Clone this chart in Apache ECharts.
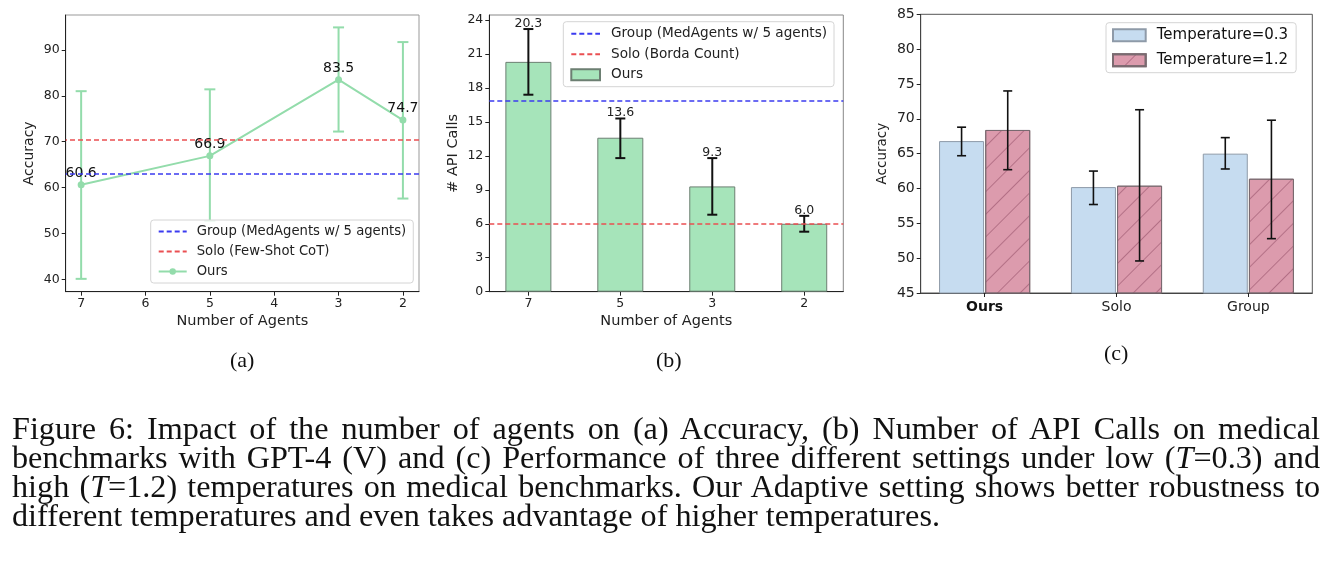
<!DOCTYPE html>
<html>
<head>
<meta charset="utf-8">
<script src="https://cdn.jsdelivr.net/npm/echarts@6/dist/echarts.min.js"></script>
<style>
  html, body { margin: 0; padding: 0; background: #fff; }
  #wrap { position: relative; width: 1340px; height: 568px; overflow: hidden; }
  #main { position: absolute; left: 0; top: 0; width: 1340px; height: 568px; }
  #caption { position: absolute; left: 12px; top: 414px; width: 1308px;
    font-family: 'Liberation Serif', 'Times New Roman', serif; font-size: 32.2px; line-height: 29px; color: #111; }
  #caption div { white-space: nowrap; text-align: justify; text-align-last: justify; }
  #caption div.last { text-align-last: left; }
</style>
</head>
<body>
<div id="wrap">
  <div id="main"></div>
  <div id="caption">
    <div>Figure 6: Impact of the number of agents on (a) Accuracy, (b) Number of API Calls on medical</div>
    <div>benchmarks with GPT-4 (V) and (c) Performance of three different settings under low (<i>T</i>=0.3) and</div>
    <div>high (<i>T</i>=1.2) temperatures on medical benchmarks. Our Adaptive setting shows better robustness to</div>
    <div class="last">different temperatures and even takes advantage of higher temperatures.</div>
  </div>
</div>
<script>
// (a) accuracy vs number of agents
const agentsA = [7, 5, 3, 2];
const accA = [60.6, 66.9, 83.5, 74.7];
const accALow = [40.1, 52.7, 72.2, 57.6];
const accAHigh = [81.0, 81.4, 94.9, 91.7];
const groupA = 63.1;
const soloA = 70.4;
const xTicksA = [2, 3, 4, 5, 6, 7];
const yTicksA = [40, 50, 60, 70, 80, 90];

// (b) api calls
const agentsB = ['7', '5', '3', '2'];
const callsB = [20.3, 13.6, 9.3, 6.0];
const callsBLow = [17.4, 11.8, 6.8, 5.3];
const callsBHigh = [23.2, 15.3, 11.8, 6.7];
const groupB = 16.9;
const soloB = 6.0;
const yTicksB = [0, 3, 6, 9, 12, 15, 18, 21, 24];

// (c) temperature robustness
const settingsC = ['Ours', 'Solo', 'Group'];
const accT03 = [66.8, 60.2, 65.0];
const accT03Low = [64.7, 57.7, 62.8];
const accT03High = [68.8, 62.5, 67.3];
const accT12 = [68.4, 60.4, 61.4];
const accT12Low = [62.7, 49.6, 52.8];
const accT12High = [74.0, 71.3, 69.8];

const FONT = 'DejaVu Sans';
const GREEN = '#93dcab';
const BLUE_DASH = '#3b3bf0';
const RED_DASH = '#ea4f52';

const chart = echarts.init(document.getElementById('main'), null, { renderer: 'canvas' });

function errRender(color, cap, lw, labels) {
  return function (params, api) {
    const x = api.value(0);
    const top = api.coord([x, api.value(2)]);
    const bot = api.coord([x, api.value(1)]);
    const st = { stroke: color, lineWidth: lw };
    const kids = [
      { type: 'line', shape: { x1: top[0], y1: top[1], x2: bot[0], y2: bot[1] }, style: st },
      { type: 'line', shape: { x1: top[0] - cap, y1: top[1], x2: top[0] + cap, y2: top[1] }, style: st },
      { type: 'line', shape: { x1: bot[0] - cap, y1: bot[1], x2: bot[0] + cap, y2: bot[1] }, style: st }
    ];
    if (labels) {
      kids.push({ type: 'text', style: { text: labels[params.dataIndex].toFixed(1), x: top[0], y: top[1] + 1,
        textAlign: 'center', textVerticalAlign: 'bottom', fontSize: 12.5, fontFamily: FONT, fill: '#222' } });
    }
    return { type: 'group', children: kids };
  };
}

function refLine(name, value, color, xi) {
  return {
    name: name, type: 'line', xAxisIndex: xi, yAxisIndex: xi, data: [], symbol: 'none',
    lineStyle: { color: color, type: [5, 3], width: 1.5 }, itemStyle: { color: color },
    markLine: { silent: true, symbol: ['none', 'none'], label: { show: false },
      lineStyle: { color: color, type: [5, 3], width: 1.5 }, data: [{ yAxis: value }] }
  };
}

// legend entry for a dashed reference line: keep the line, hide the marker
const dashEntry = (name) => ({ name: name, itemStyle: { opacity: 0 } });

const legendBase = {
  orient: 'vertical', selectedMode: false, backgroundColor: 'rgba(255,255,255,0.85)',
  borderColor: '#d4d4d4', borderWidth: 1, borderRadius: 3
};

const tickLabel = (size) => ({ fontFamily: FONT, fontSize: size, color: '#222' });
const axisLineDark = { show: true, onZero: false, lineStyle: { color: '#222', width: 1 } };
const axisLineGray = { show: true, onZero: false, lineStyle: { color: '#444', width: 1 } };
const tickDark = { show: true, length: 4, lineStyle: { color: '#222' } };

const option = {
  animation: false,
  textStyle: { fontFamily: FONT },
  grid: [
    { left: 65.7, top: 15, width: 353.3, height: 276.7, show: true, borderColor: '#999', borderWidth: 1 },
    { left: 489.3, top: 15, width: 354, height: 276.7, show: true, borderColor: '#888', borderWidth: 1 },
    { left: 920.7, top: 14.3, width: 391.6, height: 278.7, show: true, borderColor: '#555', borderWidth: 1 }
  ],
  xAxis: [
    { gridIndex: 0, type: 'value', inverse: true, min: 1.75, max: 7.24,
      axisLine: axisLineDark, axisTick: Object.assign({ customValues: xTicksA }, tickDark),
      axisLabel: Object.assign({ customValues: xTicksA, margin: 6 }, tickLabel(12.5)),
      splitLine: { show: false },
      name: 'Number of Agents', nameLocation: 'middle', nameGap: 22,
      nameTextStyle: { fontFamily: FONT, fontSize: 14.5, color: '#222' } },
    { gridIndex: 1, type: 'value', min: -0.425, max: 3.425,
      axisLine: axisLineDark, axisTick: Object.assign({ customValues: [0, 1, 2, 3] }, tickDark),
      axisLabel: Object.assign({ customValues: [0, 1, 2, 3], margin: 6, formatter: v => agentsB[v] }, tickLabel(12.5)),
      splitLine: { show: false },
      name: 'Number of Agents', nameLocation: 'middle', nameGap: 22,
      nameTextStyle: { fontFamily: FONT, fontSize: 14.5, color: '#222' } },
    { gridIndex: 2, type: 'value', min: -0.485, max: 2.485,
      axisLine: axisLineGray,
      axisTick: Object.assign({ customValues: [0, 1, 2] }, tickDark),
      axisLabel: Object.assign({ customValues: [0, 1, 2], margin: 7,
        formatter: v => v === 0 ? '{b|' + settingsC[v] + '}' : settingsC[v],
        rich: { b: { fontWeight: 'bold', fontFamily: FONT, fontSize: 14, color: '#111' } } }, tickLabel(14)),
      splitLine: { show: false } }
  ],
  yAxis: [
    { gridIndex: 0, type: 'value', min: 37.3, max: 97.6,
      axisLine: axisLineDark, axisTick: Object.assign({ customValues: yTicksA }, tickDark),
      axisLabel: Object.assign({ customValues: yTicksA, margin: 6 }, tickLabel(12.5)),
      splitLine: { show: false },
      name: 'Accuracy', nameLocation: 'middle', nameGap: 29,
      nameTextStyle: { fontFamily: FONT, fontSize: 14, color: '#222' } },
    { gridIndex: 1, type: 'value', min: 0, max: 24.44,
      axisLine: axisLineDark, axisTick: Object.assign({ customValues: yTicksB }, tickDark),
      axisLabel: Object.assign({ customValues: yTicksB, margin: 6 }, tickLabel(12.5)),
      splitLine: { show: false },
      name: '# API Calls', nameLocation: 'middle', nameGap: 29,
      nameTextStyle: { fontFamily: FONT, fontSize: 14.5, color: '#222' } },
    { gridIndex: 2, type: 'value', min: 45, max: 85, interval: 5,
      axisLine: axisLineGray, axisTick: tickDark,
      axisLabel: Object.assign({ margin: 6 }, tickLabel(14)),
      splitLine: { show: false },
      name: 'Accuracy', nameLocation: 'middle', nameGap: 31,
      nameTextStyle: { fontFamily: FONT, fontSize: 13.5, color: '#222' } }
  ],
  legend: [
    Object.assign({}, legendBase, {
      left: 150.7, top: 220, padding: [5, 7, 5, 7], itemWidth: 28, itemHeight: 8, itemGap: 7,
      textStyle: { fontFamily: FONT, fontSize: 13.2, color: '#222', padding: [0, 0, 0, 5] },
      data: [dashEntry('Group (MedAgents w/ 5 agents)'), dashEntry('Solo (Few-Shot CoT)'), 'Ours']
    }),
    Object.assign({}, legendBase, {
      left: 563.3, top: 21.7, padding: [5, 7, 5, 7], itemWidth: 28.7, itemHeight: 11, itemGap: 6.5,
      textStyle: { fontFamily: FONT, fontSize: 13.6, color: '#222', padding: [0, 0, 0, 6] },
      formatter: n => n.replace(/^b:/, ''),
      data: [dashEntry('b:Group (MedAgents w/ 5 agents)'), dashEntry('b:Solo (Borda Count)'),
        { name: 'b:Ours', icon: 'rect' }]
    }),
    Object.assign({}, legendBase, {
      left: 1106, top: 22.7, padding: [5, 8, 5, 6], itemWidth: 32.7, itemHeight: 12, itemGap: 10,
      textStyle: { fontFamily: FONT, fontSize: 15, color: '#111', padding: [0, 0, 0, 6] },
      data: [{ name: 'Temperature=0.3', icon: 'rect' }, { name: 'Temperature=1.2', icon: 'rect' }]
    })
  ],
  graphic: [
    { type: 'text', left: 230, top: 350, style: { text: '(a)', fontFamily: 'Liberation Serif', fontSize: 22, fill: '#111' } },
    { type: 'text', left: 656, top: 350, style: { text: '(b)', fontFamily: 'Liberation Serif', fontSize: 22, fill: '#111' } },
    { type: 'text', left: 1104, top: 343, style: { text: '(c)', fontFamily: 'Liberation Serif', fontSize: 22, fill: '#111' } }
  ],
  series: [
    // (a)
    refLine('Group (MedAgents w/ 5 agents)', groupA, BLUE_DASH, 0),
    refLine('Solo (Few-Shot CoT)', soloA, RED_DASH, 0),
    { name: 'Ours', type: 'line', xAxisIndex: 0, yAxisIndex: 0,
      data: agentsA.map((a, i) => [a, accA[i]]),
      symbol: 'circle', symbolSize: 7, lineStyle: { color: GREEN, width: 2 }, itemStyle: { color: GREEN },
      label: { show: true, position: 'top', distance: 1, fontFamily: FONT, fontSize: 14, color: '#111',
        formatter: p => p.value[1].toFixed(1) }, z: 3 },
    { type: 'custom', xAxisIndex: 0, yAxisIndex: 0, renderItem: errRender(GREEN, 5.5, 2),
      data: agentsA.map((a, i) => [a, accALow[i], accAHigh[i]]), z: 2 },
    // (b)
    refLine('b:Group (MedAgents w/ 5 agents)', groupB, BLUE_DASH, 1),
    refLine('b:Solo (Borda Count)', soloB, RED_DASH, 1),
    { name: 'b:Ours', type: 'bar', xAxisIndex: 1, yAxisIndex: 1, barWidth: 46,
      data: agentsB.map((a, i) => [i, callsB[i]]),
      itemStyle: { color: '#a6e4ba', borderColor: '#6c7f72', borderWidth: 1 }, z: 1 },
    { type: 'custom', xAxisIndex: 1, yAxisIndex: 1, renderItem: errRender('#111', 5, 2, callsB),
      data: agentsB.map((a, i) => [i, callsBLow[i], callsBHigh[i]]), z: 4 },
    // (c)
    { name: 'Temperature=0.3', type: 'bar', xAxisIndex: 2, yAxisIndex: 2, barWidth: 45, barGap: '-100%',
      data: settingsC.map((s, i) => [i - 0.175, accT03[i]]),
      itemStyle: { color: '#c6dcf0', borderColor: '#8e9aa8', borderWidth: 1 } },
    { name: 'Temperature=1.2', type: 'bar', xAxisIndex: 2, yAxisIndex: 2, barWidth: 45, barGap: '-100%',
      data: settingsC.map((s, i) => [i + 0.175, accT12[i]]),
      itemStyle: { color: '#dc9bad', borderColor: '#7a6a70', borderWidth: 1,
        decal: { symbol: 'rect', symbolSize: 1, dashArrayX: [1, 0], dashArrayY: [1, 15],
          rotation: -Math.PI / 4, color: 'rgba(140,70,95,0.5)' } } },
    { type: 'custom', xAxisIndex: 2, yAxisIndex: 2, renderItem: errRender('#111', 4.5, 1.6),
      data: settingsC.map((s, i) => [i - 0.175, accT03Low[i], accT03High[i]]), z: 4 },
    { type: 'custom', xAxisIndex: 2, yAxisIndex: 2, renderItem: errRender('#111', 4.5, 1.6),
      data: settingsC.map((s, i) => [i + 0.175, accT12Low[i], accT12High[i]]), z: 4 }
  ]
};

chart.setOption(option);
</script>
</body>
</html>
